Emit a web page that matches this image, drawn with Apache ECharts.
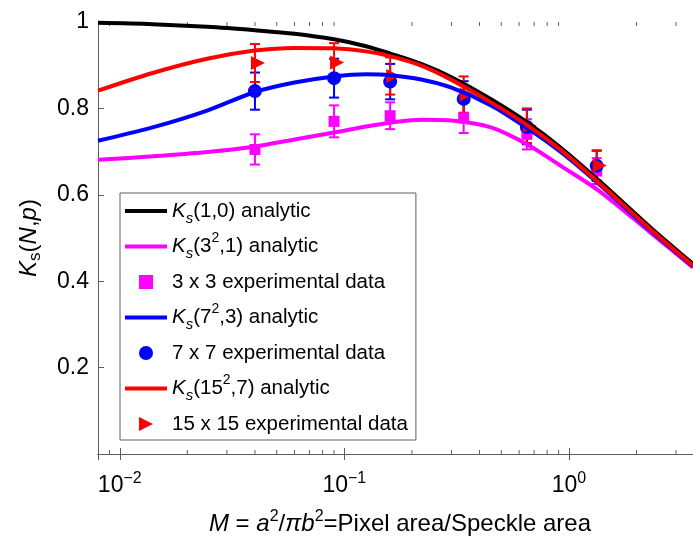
<!DOCTYPE html>
<html>
<head>
<meta charset="utf-8">
<script src="https://cdn.jsdelivr.net/npm/echarts@6/dist/echarts.min.js"></script>
<style>
  html, body { margin: 0; padding: 0; background: #fff; }
  #chart { width: 693px; height: 537px; }
</style>
</head>
<body>
<div id="chart"></div>
<script>
// analytic curves
var mCurve = [0.008, 0.014, 0.0245, 0.04, 0.06, 0.09, 0.125, 0.16, 0.22, 0.3, 0.45, 0.65, 0.92, 1.38, 2.3, 3.57];
var kAnalytic1 = [0.998, 0.995, 0.989, 0.981, 0.973, 0.960, 0.944, 0.927, 0.903, 0.872, 0.821, 0.768, 0.709, 0.630, 0.525, 0.440];
var kAnalytic3 = [0.681, 0.689, 0.699, 0.712, 0.728, 0.744, 0.758, 0.767, 0.774, 0.772, 0.756, 0.717, 0.667, 0.607, 0.513, 0.432];
var kAnalytic7 = [0.725, 0.756, 0.795, 0.838, 0.860, 0.874, 0.879, 0.877, 0.867, 0.848, 0.807, 0.755, 0.699, 0.622, 0.518, 0.434];
var kAnalytic15 = [0.841, 0.882, 0.915, 0.934, 0.940, 0.939, 0.932, 0.921, 0.899, 0.866, 0.814, 0.762, 0.704, 0.625, 0.521, 0.436];

// experimental points with error bar half-widths
var mExp = [0.04, 0.09, 0.16, 0.34, 0.65, 1.33];
var exp3 = [0.705, 0.770, 0.783, 0.778, 0.740, 0.655];
var err3 = [0.035, 0.037, 0.031, 0.035, 0.035, 0.030];
var exp7 = [0.840, 0.870, 0.862, 0.822, 0.757, 0.667];
var err7 = [0.043, 0.045, 0.041, 0.041, 0.040, 0.035];
var exp15 = [0.905, 0.906, 0.875, 0.832, 0.760, 0.668];
var err15 = [0.044, 0.045, 0.043, 0.042, 0.040, 0.035];

var xMin = 0.008, xMax = 3.57;
var yTicks = [0, 0.2, 0.4, 0.6, 0.8, 1];

var FONT = "Liberation Sans";
var AXIS_GREY = "#5e5e5e";
var LINE_ICON = "path://M0,0H40V4H0Z";

function zip(xs, ys) {
  return xs.map(function (x, i) { return [x, ys[i]]; });
}
function bars(xs, ys, es) {
  return xs.map(function (x, i) { return [x, ys[i] - es[i], ys[i] + es[i]]; });
}

// minor ticks of the log axis (2..9 per decade)
var minorTicks = [];
for (var e = -3; e <= 0; e++) {
  for (var k = 2; k <= 9; k++) {
    var m = k * Math.pow(10, e);
    if (m > xMin && m < xMax) minorTicks.push([m, 0]);
  }
}

function errorBarItem(params, api) {
  var x = api.value(0);
  var lo = api.coord([x, api.value(1)]);
  var hi = api.coord([x, api.value(2)]);
  var w = 5;
  var style = { stroke: api.visual("color"), lineWidth: 2 };
  return {
    type: "group",
    children: [
      { type: "line", shape: { x1: lo[0], y1: lo[1], x2: hi[0], y2: hi[1] }, style: style },
      { type: "line", shape: { x1: lo[0] - w, y1: lo[1], x2: lo[0] + w, y2: lo[1] }, style: style },
      { type: "line", shape: { x1: hi[0] - w, y1: hi[1], x2: hi[0] + w, y2: hi[1] }, style: style }
    ]
  };
}

function minorTickItem(params, api) {
  var b = api.coord([api.value(0), 0]);
  var t = api.coord([api.value(0), 1]);
  var style = { stroke: AXIS_GREY, lineWidth: 1 };
  return {
    type: "group",
    children: [
      { type: "line", shape: { x1: b[0], y1: b[1], x2: b[0], y2: b[1] - 4 }, style: style },
      { type: "line", shape: { x1: t[0], y1: t[1], x2: t[0], y2: t[1] + 4 }, style: style }
    ]
  };
}

function isPow10(v) {
  var l = Math.log10(v);
  return Math.abs(l - Math.round(l)) < 1e-6;
}

var legendNames = {
  K1: "{i|K}{sub|s}(1,0) analytic",
  K3: "{i|K}{sub|s}(3{sup|2},1) analytic",
  E3: "3 x 3 experimental data",
  K7: "{i|K}{sub|s}(7{sup|2},3) analytic",
  E7: "7 x 7 experimental data",
  K15: "{i|K}{sub|s}(15{sup|2},7) analytic",
  E15: "15 x 15 experimental data"
};

function lineSeries(name, data, color) {
  return {
    name: name, type: "line", data: data, smooth: 0.3,
    symbol: "none", showSymbol: false, color: color,
    itemStyle: { color: color },
    lineStyle: { color: color, width: 4 }
  };
}
function barSeries(data, color) {
  return {
    type: "custom", renderItem: errorBarItem, data: data,
    encode: { x: 0, y: [1, 2] }, itemStyle: { color: color }, silent: true
  };
}

var chart = echarts.init(document.getElementById("chart"), null, { renderer: "canvas" });

var option = {
  animation: false,
  backgroundColor: "#fff",
  textStyle: { fontFamily: FONT },
  grid: { left: 98, top: 22, right: 0, bottom: 83, containLabel: false, outerBoundsMode: "none" },
  legend: {
    orient: "vertical",
    left: 120, top: 193,
    padding: [3, 8, 1, 5],
    itemGap: 5.5,
    itemWidth: 42, itemHeight: 14,
    borderColor: AXIS_GREY, borderWidth: 1,
    backgroundColor: "#fff",
    selectedMode: false,
    data: [
      { name: "K1", icon: LINE_ICON },
      { name: "K3", icon: LINE_ICON },
      { name: "E3", icon: "path://M0,0H10V10H0Z" },
      { name: "K7", icon: LINE_ICON },
      { name: "E7", icon: "circle" },
      { name: "K15", icon: LINE_ICON },
      { name: "E15", icon: "path://M0,0L10,5L0,10Z" }
    ],
    formatter: function (n) { return legendNames[n]; },
    textStyle: {
      fontFamily: FONT, fontSize: 20.5, color: "#000", lineHeight: 30,
      rich: {
        i: { fontFamily: FONT, fontSize: 20.5, fontStyle: "italic", color: "#000" },
        sub: { fontFamily: FONT, fontSize: 15, fontStyle: "italic", lineHeight: 8, verticalAlign: "bottom", color: "#000" },
        sup: { fontFamily: FONT, fontSize: 14, lineHeight: 20, verticalAlign: "top", color: "#000" }
      }
    }
  },
  xAxis: [
    {
      type: "log", logBase: 10, min: xMin, max: xMax,
      name: "{i|M} = {i|a}{sup|2}/{i|π}{i|b}{sup|2}=Pixel area/Speckle area",
      nameLocation: "middle", nameGap: 55, nameMoveOverlap: false,
      nameTextStyle: {
        fontFamily: FONT, fontSize: 24, color: "#000", lineHeight: 30, padding: [0, 0, 0, 9],
        rich: {
          i: { fontFamily: FONT, fontSize: 24, fontStyle: "italic", color: "#000" },
          sup: { fontFamily: FONT, fontSize: 16, lineHeight: 18, verticalAlign: "top", color: "#000" }
        }
      },
      axisLine: { onZero: false, lineStyle: { color: AXIS_GREY, width: 1 } },
      axisTick: { inside: true, length: 6, lineStyle: { color: AXIS_GREY } },
      splitLine: { show: false },
      axisLabel: {
        margin: 17, showMinLabel: false, showMaxLabel: false,
        fontFamily: FONT, fontSize: 23, color: "#000", lineHeight: 30,
        formatter: function (v) {
          if (!isPow10(v)) return "";
          var p = Math.round(Math.log10(v));
          return "10{sup|" + (p < 0 ? "\u2212" + (-p) : p) + "}";
        },
        rich: { sup: { fontFamily: FONT, fontSize: 16, lineHeight: 16, verticalAlign: "top", color: "#000" } }
      }
    },
    {
      type: "log", logBase: 10, min: xMin, max: xMax, position: "top",
      axisLine: { lineStyle: { color: AXIS_GREY, width: 1 } },
      axisTick: { inside: true, length: 6, lineStyle: { color: AXIS_GREY } },
      axisLabel: { show: false },
      splitLine: { show: false }
    }
  ],
  yAxis: {
    type: "value", min: yTicks[0], max: yTicks[yTicks.length - 1], interval: 0.2,
    name: "{i|K}{sub|s}({i|N},{i|p})",
    nameLocation: "middle", nameGap: 54, nameMoveOverlap: false,
    nameTextStyle: {
      fontFamily: FONT, fontSize: 24, color: "#000", lineHeight: 30,
      rich: {
        i: { fontFamily: FONT, fontSize: 24, fontStyle: "italic", color: "#000" },
        sub: { fontFamily: FONT, fontSize: 17, lineHeight: 8, verticalAlign: "bottom", color: "#000" }
      }
    },
    axisLine: { show: true, lineStyle: { color: AXIS_GREY, width: 1 } },
    axisTick: { show: true, inside: true, length: 6, lineStyle: { color: AXIS_GREY } },
    splitLine: { show: false },
    axisLabel: {
      margin: 9, fontFamily: FONT, fontSize: 23, color: "#000",
      formatter: function (v) {
        if (v === 0) return "";
        if (Math.abs(v - 1) < 1e-9) return "1";
        return v.toFixed(1);
      }
    }
  },
  series: [
    {
      type: "custom", renderItem: minorTickItem, data: minorTicks,
      encode: { x: 0, y: 1 }, silent: true, z: 1
    },
    lineSeries("K1", zip(mCurve, kAnalytic1), "#000000"),
    lineSeries("K3", zip(mCurve, kAnalytic3), "#ff00ff"),
    barSeries(bars(mExp, exp3, err3), "#ff00ff"),
    {
      name: "E3", type: "scatter", data: zip(mExp, exp3),
      symbol: "rect", symbolSize: 11, color: "#ff00ff",
      itemStyle: { color: "#ff00ff", opacity: 1 }
    },
    lineSeries("K7", zip(mCurve, kAnalytic7), "#0000ff"),
    barSeries(bars(mExp, exp7, err7), "#0000ff"),
    {
      name: "E7", type: "scatter", data: zip(mExp, exp7),
      symbol: "circle", symbolSize: 14, color: "#0000ff",
      itemStyle: { color: "#0000ff", opacity: 1 }
    },
    lineSeries("K15", zip(mCurve, kAnalytic15), "#ff0000"),
    barSeries(bars(mExp, exp15, err15), "#ff0000"),
    {
      name: "E15", type: "scatter", data: zip(mExp, exp15),
      symbol: "triangle", symbolRotate: -90, symbolSize: 14,
      symbolOffset: [3, 0], color: "#ff0000",
      itemStyle: { color: "#ff0000", opacity: 1 }
    }
  ]
};

chart.setOption(option);
</script>
</body>
</html>
